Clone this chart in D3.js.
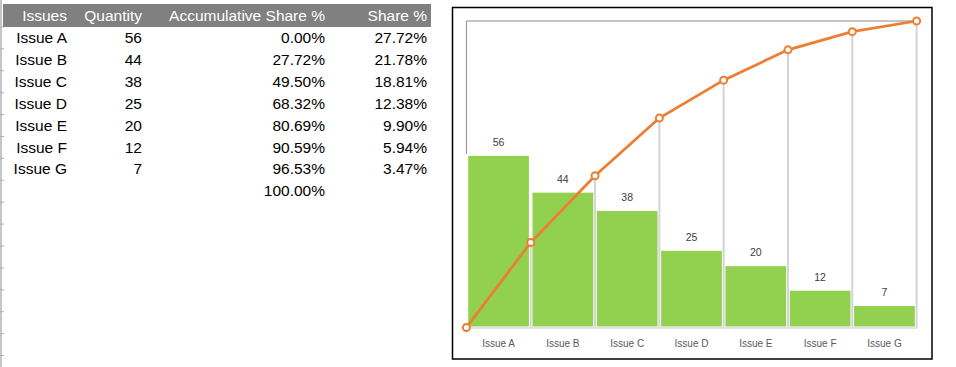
<!doctype html>
<html lang="en">
  <head>
    <meta charset="utf-8">
    <title>Pareto chart</title>
    <style>
      body { margin: 0; background: #fff; }
      svg { display: block; }
    </style>
  </head>
  <body>
    <script src="https://cdn.jsdelivr.net/npm/d3@7/dist/d3.min.js"></script>
    <script>

    var issues      = ["Issue A", "Issue B", "Issue C", "Issue D", "Issue E", "Issue F", "Issue G"];
    var quantity    = [56, 44, 38, 25, 20, 12, 7];
    var accumShare  = [0.00, 27.72, 49.50, 68.32, 80.69, 90.59, 96.53, 100.00];
    var share       = [27.72, 21.78, 18.81, 12.38, 9.90, 5.94, 3.47];
    var headers     = ["Issues", "Quantity", "Accumulative Share %", "Share %"];

    var W = 956, H = 367;

    var svg = d3.select("body")
      .append("svg")
      .attr("width", W)
      .attr("height", H);

    // ---- spreadsheet part ----
    var rowTop = 27, rowH = 21.9;

    // row borders on the left edge
    svg.append("rect")
      .attr("x", 0).attr("y", 0)
      .attr("width", 2).attr("height", H)
      .attr("fill", "#c6c6c6");
    var rowLines = d3.range(0, 16).map(function(i){ return rowTop + i * rowH; });
    svg.selectAll(".rowline")
      .data(rowLines)
      .enter()
      .append("line")
      .attr("x1", 0).attr("x2", 4)
      .attr("y1", function(d){ return d; })
      .attr("y2", function(d){ return d; })
      .attr("stroke", "#b0b0b0")
      .attr("stroke-width", 1);

    svg.append("rect")
      .attr("x", 3).attr("y", 4)
      .attr("width", 428).attr("height", 23)
      .attr("fill", "#808080");

    var colRight = [67, 142, 325, 427];

    svg.selectAll(".hdr")
      .data(headers)
      .enter()
      .append("text")
      .attr("x", function(d, i){ return colRight[i]; })
      .attr("y", 21)
      .attr("text-anchor", "end")
      .attr("fill", "#fff")
      .style("font-family", "Liberation Sans, Arial, sans-serif")
      .style("font-size", "15.5px")
      .text(function(d){ return d; });

    var rows = accumShare.map(function(a, i){
      return [issues[i] || "", quantity[i] != null ? quantity[i] : "",
              a.toFixed(2) + "%", share[i] != null ? share[i].toFixed(2) + "%" : ""];
    });

    var rowG = svg.selectAll(".row")
      .data(rows)
      .enter()
      .append("g")
      .attr("transform", function(d, i){ return "translate(0," + (rowTop + i * rowH + 16) + ")"; });

    rowG.selectAll("text")
      .data(function(d){ return d; })
      .enter()
      .append("text")
      .attr("x", function(d, i){ return colRight[i]; })
      .attr("text-anchor", "end")
      .attr("fill", "#000")
      .style("font-family", "Liberation Sans, Arial, sans-serif")
      .style("font-size", "15.5px")
      .text(function(d){ return d; });

    // ---- chart part ----
    svg.append("rect")
      .attr("x", 452.5).attr("y", 7.5)
      .attr("width", 479.5).attr("height", 351.5)
      .attr("fill", "#fff")
      .attr("stroke", "#000")
      .attr("stroke-width", 1.5);

    var plotL = 466.4, plotR = 916.6, plotT = 21, plotB = 327.5;

    var x = d3.scaleBand()
      .domain(issues)
      .range([plotL, plotR]);

    var xb = d3.scaleLinear()
      .domain([0, issues.length])
      .range([plotL, plotR]);

    var y = d3.scaleLinear()
      .domain([0, 100])
      .range([plotB, plotT]);

    var yp = d3.scaleLinear()
      .domain([0, 100])
      .range([plotB, plotT]);

    var chart = svg.append("g");

    // frame line at top/left
    chart.append("path")
      .attr("d", "M" + xb(0) + "," + (y(quantity[0]) - 2) + "V" + yp(100) + "H" + xb(issues.length))
      .attr("fill", "none")
      .attr("stroke", "#8a8a8a")
      .attr("stroke-width", 1);

    // drop lines
    chart.selectAll(".drop")
      .data(accumShare.slice(1))
      .enter()
      .append("line")
      .attr("x1", function(d, i){ return xb(i + 1); })
      .attr("x2", function(d, i){ return xb(i + 1); })
      .attr("y1", function(d){ return yp(d); })
      .attr("y2", plotB)
      .attr("stroke", "#d4d4d4")
      .attr("stroke-width", 2);

    // baseline
    chart.append("line")
      .attr("x1", plotL).attr("x2", plotR + 1)
      .attr("y1", plotB + 0.5).attr("y2", plotB + 0.5)
      .attr("stroke", "#d9d9d9")
      .attr("stroke-width", 1.5);

    chart.selectAll(".bar")
      .data(quantity)
      .enter()
      .append("rect")
      .attr("x", function(d, i){ return x(issues[i]) + 1.8; })
      .attr("y", function(d){ return y(d); })
      .attr("width", x.bandwidth() - 3.6)
      .attr("height", function(d){ return plotB - 1 - y(d); })
      .attr("fill", "#92d050");

    chart.selectAll(".val")
      .data(quantity)
      .enter()
      .append("text")
      .attr("x", function(d, i){ return x(issues[i]) + x.bandwidth() / 2; })
      .attr("y", function(d){ return y(d) - 10; })
      .attr("text-anchor", "middle")
      .attr("fill", "#404040")
      .style("font-family", "Liberation Sans, Arial, sans-serif")
      .style("font-size", "10.5px")
      .text(function(d){ return d; });

    chart.selectAll(".xl")
      .data(issues)
      .enter()
      .append("text")
      .attr("x", function(d){ return x(d) + x.bandwidth() / 2; })
      .attr("y", 346.5)
      .attr("text-anchor", "middle")
      .attr("fill", "#595959")
      .style("font-family", "Liberation Sans, Arial, sans-serif")
      .style("font-size", "10px")
      .text(function(d){ return d; });

    var line = d3.line()
      .x(function(d, i){ return xb(i); })
      .y(function(d){ return yp(d); });

    chart.append("path")
      .datum(accumShare)
      .attr("d", line)
      .attr("fill", "none")
      .attr("stroke", "#ed7d31")
      .attr("stroke-width", 2.75);

    chart.selectAll(".pt")
      .data(accumShare)
      .enter()
      .append("circle")
      .attr("cx", function(d, i){ return xb(i); })
      .attr("cy", function(d){ return yp(d); })
      .attr("r", 3.5)
      .attr("fill", "#fff")
      .attr("stroke", "#ed7d31")
      .attr("stroke-width", 2);

    </script>
  </body>
</html>
